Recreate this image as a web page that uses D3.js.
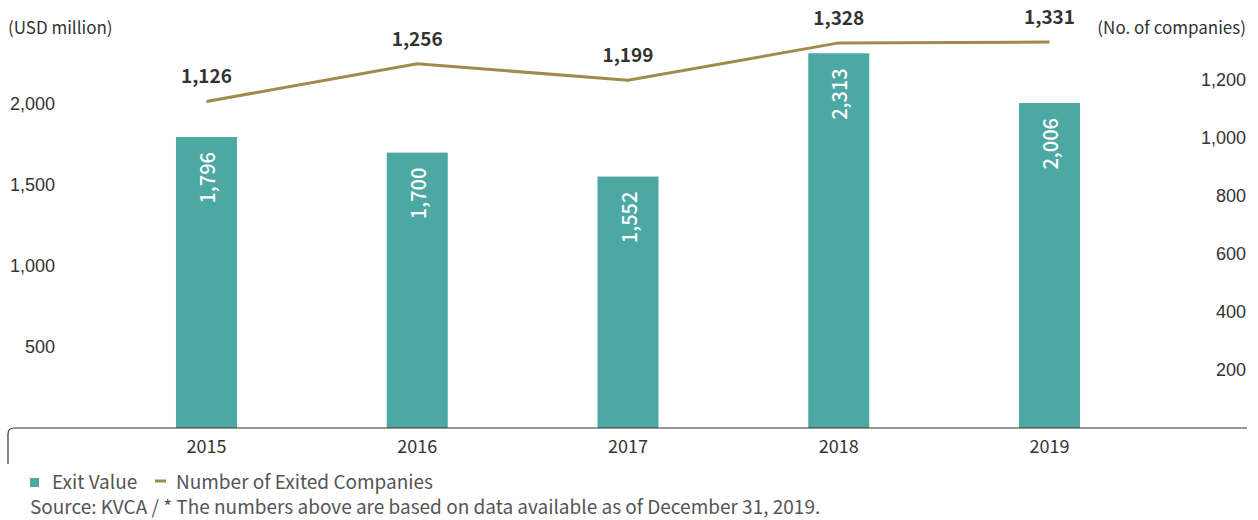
<!DOCTYPE html>
<html><head><meta charset="utf-8">
<script src="https://cdn.jsdelivr.net/npm/d3@7"></script>
<style>
body{margin:0;background:#fff;}
svg{display:block;font-family:"Noto Sans CJK KR","Noto Sans",sans-serif;}
</style></head><body>
<svg id="c" width="1258" height="520"></svg>
<script>
const years = ["2015","2016","2017","2018","2019"];
const exitValue = [1796,1700,1552,2313,2006];
const exitedCompanies = [1126,1256,1199,1328,1331];
const leftTicks = [500,1000,1500,2000];
const rightTicks = [200,400,600,800,1000,1200];

const svg = d3.select("#c");
const teal = "#4ca8a3", gold = "#a08a4c", txt = "#333", grey = "#555";
const fmt = d3.format(",");

const x = d3.scaleBand().domain(years).range([101.1,1154.9]).paddingInner(0.7106).paddingOuter(0.3553);
const yL = d3.scaleLinear().domain([0,2000]).range([428,104]);
const yR = d3.scaleLinear().domain([0,1200]).range([428,80]);

// axis titles
svg.append("text").attr("x",8).attr("y",34).attr("font-size",17).attr("fill",txt).text("(USD million)");
svg.append("text").attr("x",1246).attr("y",34).attr("text-anchor","end").attr("font-size",17).attr("fill",txt).text("(No. of companies)");

// left axis
const gL = svg.append("g").attr("transform","translate(55,0)")
  .call(d3.axisLeft(yL).tickValues(leftTicks).tickFormat(fmt).tickSize(0).tickPadding(0));
gL.select(".domain").remove();
gL.selectAll("text").attr("font-size",18).attr("fill",txt).attr("font-family",null);

// right axis
const gR = svg.append("g").attr("transform","translate(1246,0)")
  .call(d3.axisLeft(yR).tickValues(rightTicks).tickFormat(fmt).tickSize(0).tickPadding(0));
gR.select(".domain").remove();
gR.selectAll("text").attr("font-size",18).attr("fill",txt).attr("font-family",null);

// bars
svg.selectAll("rect.bar").data(years).join("rect").attr("class","bar")
  .attr("x",d=>x(d)).attr("width",x.bandwidth())
  .attr("y",(d,i)=>yL(exitValue[i])).attr("height",(d,i)=>yL(0)-yL(exitValue[i]))
  .attr("fill",teal);

// bar labels
svg.selectAll("text.bl").data(years).join("text").attr("class","bl")
  .attr("transform",(d,i)=>`translate(${x(d)+x.bandwidth()/2},${yL(exitValue[i])+15}) rotate(-90)`)
  .attr("text-anchor","end").attr("dominant-baseline","central")
  .attr("font-size",20).attr("font-weight",500).attr("fill","#fff")
  .text((d,i)=>fmt(exitValue[i]));

// baseline with rounded left corner
svg.append("path")
  .attr("d",`M8,464 L8,${yL(0)+6} Q8,${yL(0)} 14,${yL(0)} L1247,${yL(0)}`)
  .attr("fill","none").attr("stroke","#333").attr("stroke-width",1.2);

// x labels
svg.selectAll("text.xl").data(years).join("text").attr("class","xl")
  .attr("x",d=>x(d)+x.bandwidth()/2).attr("y",453).attr("text-anchor","middle")
  .attr("font-size",18).attr("fill",txt).text(d=>d);

// line
const line = d3.line().x((d,i)=>x(years[i])+x.bandwidth()/2).y(d=>yR(d));
svg.append("path").datum(exitedCompanies).attr("d",line)
  .attr("fill","none").attr("stroke",gold).attr("stroke-width",3);

svg.selectAll("text.ll").data(exitedCompanies).join("text").attr("class","ll")
  .attr("x",(d,i)=>x(years[i])+x.bandwidth()/2).attr("y",d=>yR(d)-18)
  .attr("text-anchor","middle")
  .attr("font-size",19).attr("font-weight",700).attr("fill",txt).text(d=>fmt(d));

// legend
svg.append("rect").attr("x",30).attr("y",478).attr("width",9).attr("height",9).attr("fill",teal);
svg.append("text").attr("x",52).attr("y",489).attr("font-size",19).attr("fill",grey).text("Exit Value");
svg.append("line").attr("x1",155).attr("x2",166).attr("y1",481).attr("y2",481).attr("stroke",gold).attr("stroke-width",3);
svg.append("text").attr("x",176).attr("y",489).attr("font-size",19).attr("fill",grey).text("Number of Exited Companies");
svg.append("text").attr("x",30).attr("y",514).attr("font-size",19).attr("fill",grey)
  .text("Source: KVCA / * The numbers above are based on data available as of December 31, 2019.");
</script>
</body></html>
